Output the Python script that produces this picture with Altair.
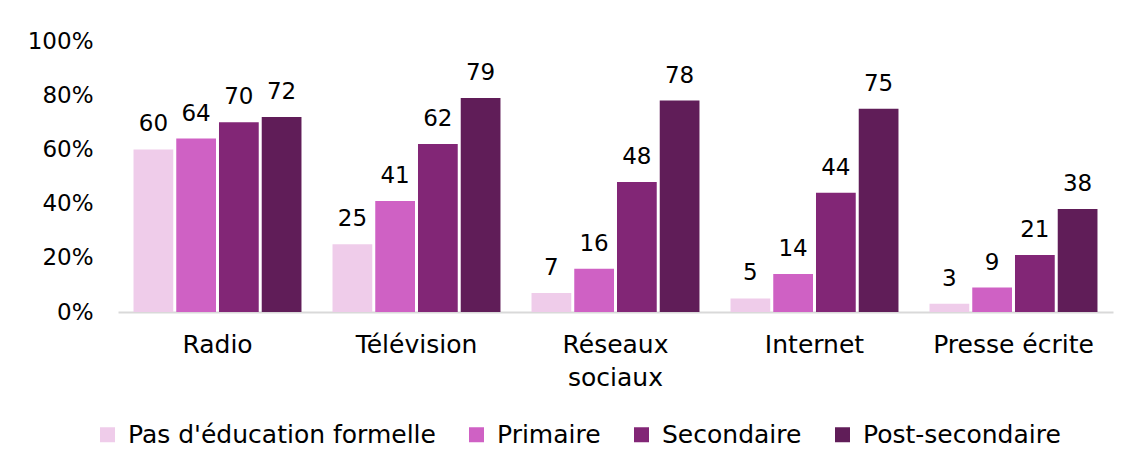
import altair as alt
import pandas as pd

categories = ["Radio", "Télévision", "Réseaux sociaux", "Internet", "Presse écrite"]
series = ["Pas d'éducation formelle", "Primaire", "Secondaire", "Post-secondaire"]
values = {
    "Pas d'éducation formelle": [60, 25, 7, 5, 3],
    "Primaire": [64, 41, 16, 14, 9],
    "Secondaire": [70, 62, 48, 44, 21],
    "Post-secondaire": [72, 79, 78, 75, 38],
}
colors = ["#EFCCEA", "#CF61C4", "#822676", "#601D58"]

rows = []
for s in series:
    for c, v in zip(categories, values[s]):
        rows.append({"cat": c, "serie": s, "val": v})
df = pd.DataFrame(rows)

FONT = "DejaVu Sans"
FS = 25

base = alt.Chart(df).encode(
    x=alt.X("cat:N", sort=categories, title=None,
            scale=alt.Scale(paddingInner=0.156, paddingOuter=0.078),
            axis=alt.Axis(labelAngle=0, labelFontSize=FS, labelFont=FONT, labelColor="#000000",
                          labelPadding=20, ticks=False, domainColor="#D9D9D9", domainWidth=2,
                          labelLineHeight=33,
                          labelExpr="datum.label == 'Réseaux sociaux' ? ['Réseaux', 'sociaux'] : datum.label")),
    xOffset=alt.XOffset("serie:N", sort=series, scale=alt.Scale(paddingInner=0.07)),
)

bars = base.mark_bar().encode(
    y=alt.Y("val:Q", title=None,
            scale=alt.Scale(domain=[0, 100]),
            axis=alt.Axis(values=[0, 20, 40, 60, 80, 100], labelExpr="datum.value + '%'",
                          labelFontSize=23, labelFont=FONT, labelColor="#000000",
                          ticks=False, domain=False, grid=False, labelPadding=25)),
    color=alt.Color("serie:N", sort=series, title=None,
                    scale=alt.Scale(domain=series, range=colors),
                    legend=alt.Legend(orient="none", direction="horizontal", symbolType="square",
                                      legendX=-23, legendY=381,
                                      symbolSize=225, symbolStrokeWidth=0, labelFontSize=FS, labelFont=FONT,
                                      labelColor="#000000", columnPadding=28, labelOffset=8,
                                      labelLimit=450)),
)

text = base.mark_text(baseline="bottom", dy=-13, fontSize=23, font=FONT, color="#000000").encode(
    y=alt.Y("val:Q"),
    text=alt.Text("val:Q"),
)

chart = (bars + text).properties(
    width=995, height=271,
    padding={"left": 19, "top": 22, "right": 10, "bottom": 10},
).configure(background="#FFFFFF").configure_view(stroke=None)

chart.save("out.html", embed_options={"renderer": "svg", "actions": False})
